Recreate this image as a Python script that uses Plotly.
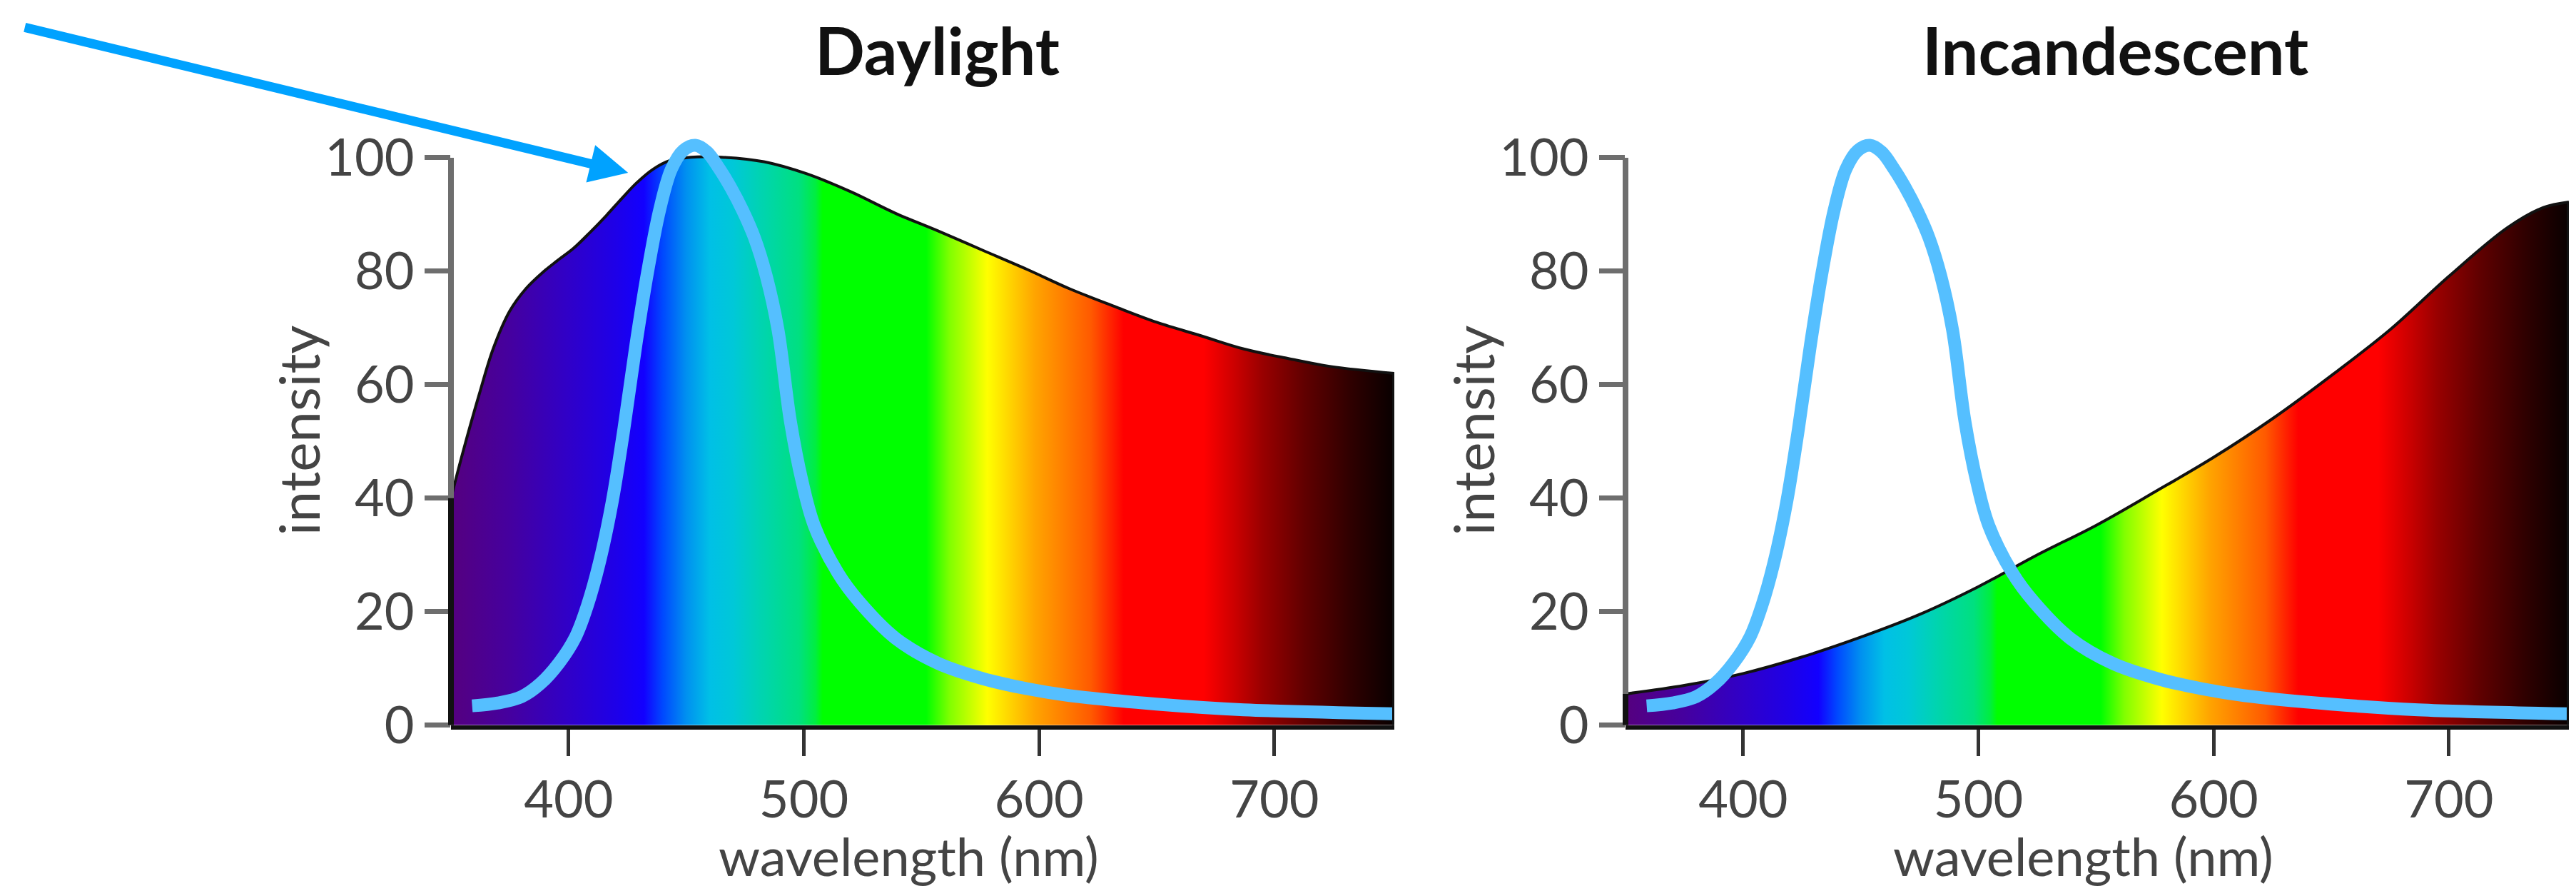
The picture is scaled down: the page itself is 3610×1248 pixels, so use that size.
import plotly.graph_objects as go

# ---------------- data ----------------
daylight_wl = [350, 355, 362, 368, 375, 382, 389, 395, 402, 409, 416, 423, 429, 436, 443, 452,
               465, 483, 501, 520, 539, 557, 576, 595, 613, 632, 650, 669, 687, 706, 724, 751]
daylight_val = [40, 48, 58.3, 66.4, 73, 77, 79.8, 81.8, 84, 86.8, 89.8, 93, 95.6, 98, 99.5, 100.1,
                100.1, 99.3, 97.2, 94, 90.2, 87.1, 83.7, 80.3, 76.9, 73.8, 71, 68.6, 66.3, 64.6, 63.2, 62]

incand_wl = [350, 375, 400, 425, 450, 475, 500, 525, 550, 575, 600, 625, 650, 675, 700, 725, 740, 751]
incand_val = [5.5, 7.0, 9.1, 12.0, 15.5, 19.5, 24.4, 30.0, 35.2, 41.1, 47.2, 54.0, 61.6, 69.7, 79.1, 87.7, 91.2, 92.2]

blue_wl = [359, 370, 380, 388, 396, 403, 408, 413, 418.5, 423.5, 428.6, 433.6, 438.7,
           443.7, 448.8, 453.9, 458.9, 464, 469, 474, 479, 484, 489, 494.3, 499.4, 504.4, 514.5,
           523.6, 539, 557, 576, 595, 613, 650, 687, 751]
blue_val = [3.4, 3.9, 5.0, 7.3, 11.0, 15.6, 21.1, 28.5, 39.3, 52.2, 67.0, 79.9, 90.8,
            98.0, 101.3, 102.2, 101.0, 98.1, 94.7, 90.7, 85.9, 79.2, 69.7, 53.5, 42.7, 35.2, 26.8,
            21.7, 15.3, 10.9, 8.2, 6.4, 5.2, 3.7, 2.7, 2.0]

x_ticks = [400, 500, 600, 700]
y_ticks = [0, 20, 40, 60, 80, 100]
panel_titles = ["Daylight", "Incandescent"]
x_title = "wavelength (nm)"
y_title = "intensity"

# spectrum colours by wavelength
spec_wl = [350, 375, 400, 420, 432, 440, 450, 460, 470, 482, 498, 505, 508, 552, 562, 578, 598, 622,
           636, 670, 683, 695, 713, 732, 751]
spec_col = ["#55007F", "#45009F", "#3000C8", "#1E00E8", "#1200FF", "#0048FF", "#0090F0", "#00C0E6",
            "#00C8D8", "#00D4B0", "#00E080", "#00EE40", "#00FF00", "#00FF00", "#80FF00", "#FFFF00",
            "#FFA500", "#FF5A00", "#FF0000", "#FF0000", "#CC0000", "#990000", "#600000", "#300000", "#080000"]

# ---------------- geometry ----------------
W, H = 3610, 1248
XMIN, XMAX = 350, 751
YMAX = 110
left_px = [(624, 1946), (2270, 3592)]
y0_px, ypx_per_unit = 1041, 8.21
ydom = [(H - y0_px) / H, (H - (y0_px - YMAX * ypx_per_unit)) / H]

span = spec_wl[-1] - spec_wl[0]
colorscale = [[(w - spec_wl[0]) / span, c] for w, c in zip(spec_wl, spec_col)]

FONT = "Lato, Roboto, sans-serif"

fig = go.Figure()

series = [(daylight_wl, daylight_val), (incand_wl, incand_val)]
shapes = []
annotations = []
for i, (wl, val) in enumerate(series):
    xa = "x" if i == 0 else "x2"
    ya = "y" if i == 0 else "y2"
    fig.add_trace(go.Scatter(
        x=wl, y=val, xaxis=xa, yaxis=ya, mode="lines",
        line=dict(color="#111111", width=4, shape="spline", smoothing=1.0),
        fill="tozeroy",
        fillgradient=dict(type="horizontal", colorscale=colorscale, start=spec_wl[0], stop=spec_wl[-1]),
        hoverinfo="skip", showlegend=False))
    fig.add_trace(go.Scatter(
        x=blue_wl, y=blue_val, xaxis=xa, yaxis=ya, mode="lines",
        line=dict(color="#55BFFF", width=18, shape="spline", smoothing=1.0),
        hoverinfo="skip", showlegend=False))

    xp = left_px[i][0] / W
    # grey y-axis line from 0 to 100
    shapes.append(dict(type="line", xref="paper", yref=ya, x0=xp, x1=xp, y0=0, y1=y_ticks[-1],
                       line=dict(color="#6e6e6e", width=8)))
    # dark left edge of the filled area
    shapes.append(dict(type="line", xref="paper", yref=ya, x0=xp, x1=xp, y0=0, y1=val[0],
                       line=dict(color="#111111", width=8)))
    # dark right edge of the filled area
    shapes.append(dict(type="line", xref=xa, yref=ya, x0=wl[-1], x1=wl[-1], y0=0, y1=val[-1],
                       line=dict(color="#111111", width=6)))

    cx = (left_px[i][0] + left_px[i][1]) / 2
    annotations.append(dict(text=panel_titles[i], xref="paper", yref="paper",
                            x=(cx + (20 if i == 0 else 25)) / W, y=1 - 64 / H,
                            xanchor="center", yanchor="middle", showarrow=False,
                            font=dict(family=FONT, size=92, color="#111111", weight="bold")))
    annotations.append(dict(text=x_title, xref="paper", yref="paper",
                            x=(cx - 20) / W, y=1 - 1230 / H,
                            xanchor="center", yanchor="middle", showarrow=False,
                            font=dict(family=FONT, size=74, color="#444444")))
    annotations.append(dict(text=y_title, xref="paper", yref="paper", textangle=-90,
                            x=(left_px[i][0] - 214) / W, y=1 - 615 / H,
                            xanchor="center", yanchor="middle", showarrow=False,
                            font=dict(family=FONT, size=78, color="#444444")))

# arrow pointing at the daylight curve
annotations.append(dict(text="", xref="x", yref="y", x=425.3, y=97.35,
                        axref="pixel", ayref="pixel", ax=-847, ay=-204,
                        showarrow=True, arrowhead=2, arrowsize=0.83, arrowwidth=13,
                        arrowcolor="#00A2FF", standoff=0))

axis_common = dict(range=[XMIN, XMAX], tickvals=x_ticks, ticks="outside", ticklen=37, tickwidth=5,
                   tickcolor="#333333", showline=True, linecolor="#111111", linewidth=6,
                   showgrid=False, zeroline=False,
                   tickfont=dict(family=FONT, size=72, color="#444444"))
yaxis_common = dict(range=[0, YMAX], tickvals=y_ticks, ticks="outside", ticklen=36, tickwidth=7,
                    tickcolor="#6e6e6e", showline=False, showgrid=False, zeroline=False,
                    tickfont=dict(family=FONT, size=72, color="#444444"))

fig.update_layout(
    width=W, height=H,
    margin=dict(l=0, r=0, t=0, b=0),
    paper_bgcolor="white", plot_bgcolor="white",
    showlegend=False,
    xaxis=dict(domain=[left_px[0][0] / W, left_px[0][1] / W], anchor="y", **axis_common),
    yaxis=dict(domain=ydom, anchor="x", **yaxis_common),
    xaxis2=dict(domain=[left_px[1][0] / W, left_px[1][1] / W], anchor="y2", **axis_common),
    yaxis2=dict(domain=ydom, anchor="x2", **yaxis_common),
    shapes=shapes,
    annotations=annotations,
)

fig.write_html("out.html")
